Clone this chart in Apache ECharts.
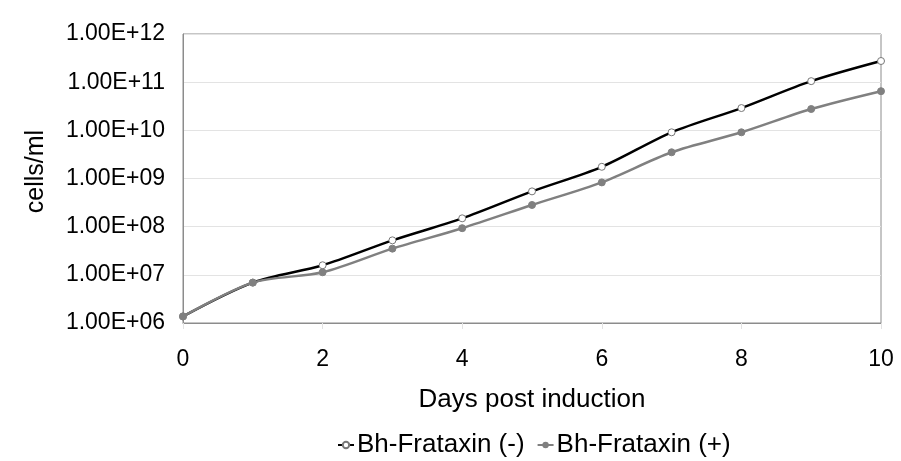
<!DOCTYPE html>
<html lang="en">
<head>
    <title>cells/ml</title>
    <meta charset="utf-8" />
    <script src="https://cdn.jsdelivr.net/npm/echarts@6/dist/echarts.min.js"></script>
    <style>
        body {
            margin: 0;
            background-color: #fff;
        }

        #main {
            width: 901px;
            height: 461px;
        }
    </style>
</head>
<body>
<div id="main"></div>
<script type="text/javascript">
    let days = [0, 1, 2, 3, 4, 5, 6, 7, 8, 9, 10]
    let lineMinus = [1.37e6, 6.9e6, 1.58e7, 5.2e7, 1.49e8, 5.4e8, 1.75e9, 9.1e9, 2.9e10, 1.05e11, 2.75e11]
    let linePlus = [1.37e6, 6.9e6, 1.13e7, 3.5e7, 9.3e7, 2.82e8, 8.3e8, 3.5e9, 9.1e9, 2.77e10, 6.5e10]
    let nameMinus = 'Bh-Frataxin (-)'
    let namePlus = 'Bh-Frataxin (+)'

    let fontFamily = 'Liberation Sans, Arial, sans-serif'
    let colorMinus = '#000000'
    let colorPlus = '#808080'
    let colorAxis = '#8c8c8c'
    let colorGrid = '#e3e3e3'

    let myChart = echarts.init(document.getElementById('main'), null, {renderer: 'canvas'});

    const toPairs = (arr) => {
        let res = []
        for (let i = 0; i < arr.length; i++) {
            res.push([days[i], arr[i]])
        }
        return res
    }

    myChart.setOption({
        animation: false,
        textStyle: {
            fontFamily: fontFamily,
            color: '#000',
        },
        grid: {
            left: 183,
            right: 20,
            top: 34,
            bottom: 138,
            show: true,
            borderColor: colorAxis,
            borderWidth: 1,
        },
        legend: {
            top: 427,
            left: 332,
            itemWidth: 16,
            itemHeight: 8,
            itemGap: 12,
            textStyle: {
                fontSize: 26,
                fontFamily: fontFamily,
                color: '#000',
                padding: [0, 0, 0, -2],
            },
            data: [nameMinus, namePlus],
        },
        xAxis: {
            type: 'value',
            min: 0,
            max: 10,
            interval: 2,
            name: 'Days post induction',
            nameLocation: 'middle',
            nameGap: 64,
            nameTextStyle: {
                fontSize: 26,
                color: '#000',
            },
            axisLine: {
                lineStyle: {
                    color: colorAxis,
                    width: 1,
                },
            },
            axisTick: {
                show: true,
                length: 6,
                lineStyle: {
                    color: colorGrid,
                },
            },
            axisLabel: {
                fontSize: 23,
                color: '#000',
                margin: 25,
            },
            splitLine: {
                show: false,
            },
        },
        yAxis: {
            type: 'log',
            logBase: 10,
            min: 1e6,
            max: 1e12,
            name: 'cells/ml',
            nameLocation: 'middle',
            nameGap: 134,
            nameTextStyle: {
                fontSize: 25,
                color: '#000',
                padding: [0, 0, 0, 14],
            },
            axisLine: {
                show: true,
                lineStyle: {
                    color: colorAxis,
                    width: 1,
                },
            },
            axisTick: {
                show: false,
            },
            axisLabel: {
                fontSize: 23,
                color: '#000',
                margin: 18,
                formatter: function (v) {
                    let e = Math.round(Math.log10(v))
                    return '1.00E+' + (e < 10 ? '0' + e : e)
                },
            },
            splitLine: {
                show: true,
                lineStyle: {
                    color: colorGrid,
                    width: 1,
                },
            },
        },
        series: [
            {
                name: nameMinus,
                type: 'line',
                smooth: 0.3,
                data: toPairs(lineMinus),
                symbol: 'circle',
                symbolSize: 7,
                lineStyle: {
                    color: colorMinus,
                    width: 2.5,
                },
                itemStyle: {
                    color: '#fff',
                    borderColor: '#777',
                    borderWidth: 1,
                },
            },
            {
                name: namePlus,
                type: 'line',
                smooth: 0.3,
                data: toPairs(linePlus),
                symbol: 'circle',
                symbolSize: 7,
                lineStyle: {
                    color: colorPlus,
                    width: 2.5,
                },
                itemStyle: {
                    color: colorPlus,
                    borderColor: colorPlus,
                },
            },
        ]
    });
</script>
</body>
</html>
